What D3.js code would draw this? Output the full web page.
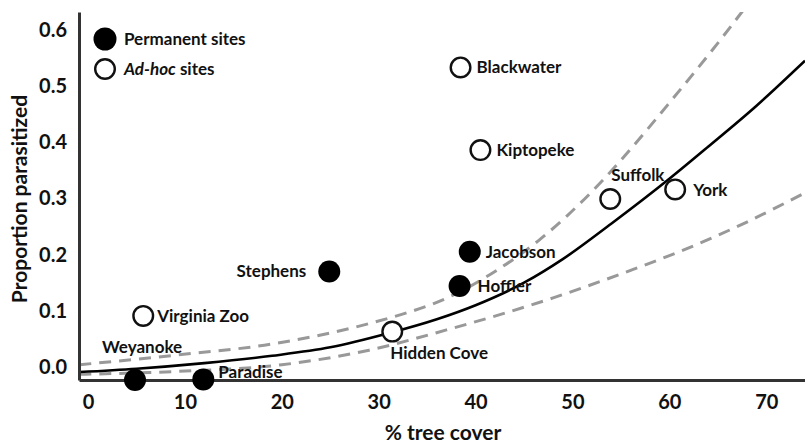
<!DOCTYPE html>
<html>
<head>
<meta charset="utf-8">
<script src="https://cdn.jsdelivr.net/npm/d3@7"></script>
<style>
  html, body { margin: 0; padding: 0; background: #fff; }
  svg { display: block; }
  text { font-family: Lato, "Open Sans", sans-serif; font-weight: 700; fill: #111; }
</style>
</head>
<body>
<svg id="chart" width="805" height="445"></svg>
<script>
// ---- Data ----
const permanentSites = ["Jacobson", "Hoffler", "Stephens", "Weyanoke", "Paradise"];
const permanentCover = [39.4, 38.35, 24.9, 4.85, 11.9];
const permanentProp  = [0.205, 0.144, 0.170, -0.023, -0.022];

const adhocSites = ["Blackwater", "Kiptopeke", "Suffolk", "York", "Virginia Zoo", "Hidden Cove"];
const adhocCover = [38.45, 40.5, 53.9, 60.6, 5.7, 31.4];
const adhocProp  = [0.533, 0.386, 0.299, 0.316, 0.091, 0.063];

// fitted curve and confidence bands
const fitX = [-0.9, 5, 12, 19, 25, 31, 36, 40, 45, 49, 54, 60, 64, 69, 74];
const fitY = [-0.009, -0.003, 0.007, 0.020, 0.035, 0.060, 0.085, 0.110, 0.150, 0.192, 0.255, 0.335, 0.392, 0.465, 0.545];
const upperX = [-0.9, 9, 19, 28.5, 33, 36, 42, 46.5, 49.5, 53, 55, 60, 67.5, 70];
const upperY = [0.004, 0.021, 0.041, 0.075, 0.097, 0.115, 0.170, 0.225, 0.270, 0.330, 0.368, 0.470, 0.632, 0.690];
const lowerX = [-0.9, 9, 20, 29, 37, 48, 56, 62, 68, 74];
const lowerY = [-0.013, -0.008, 0.004, 0.030, 0.066, 0.123, 0.172, 0.212, 0.258, 0.310];

const xTicks = [0, 10, 20, 30, 40, 50, 60, 70];
const yTicks = [0.0, 0.1, 0.2, 0.3, 0.4, 0.5, 0.6];

// label placement (dx, dy, anchor) per site
const labelPos = {
  "Jacobson": [16, 0, "start"], "Hoffler": [18, 0, "start"], "Stephens": [-23, 0, "end"],
  "Weyanoke": [-33, -33, "start"], "Paradise": [15, -7, "start"],
  "Blackwater": [16, 0, "start"], "Kiptopeke": [16, 0, "start"], "Suffolk": [1, -24, "start"],
  "York": [18, 1, "start"], "Virginia Zoo": [14, 0, "start"], "Hidden Cove": [-2, 21, "start"]
};

// ---- Chart ----
const svg = d3.select("#chart");
const x = d3.scaleLinear().domain([-0.93, 74]).range([79, 805]);
const y = d3.scaleLinear().domain([-0.0231, 0.6317]).range([380, 12]);

svg.append("defs").append("clipPath").attr("id", "plot")
  .append("rect").attr("x", 79).attr("y", 12).attr("width", 726).attr("height", 368);

const line = d3.line().x(d => x(d[0])).y(d => y(d[1])).curve(d3.curveMonotoneX);
const g = svg.append("g").attr("clip-path", "url(#plot)");

g.append("path").datum(d3.zip(upperX, upperY)).attr("d", line)
  .attr("fill", "none").attr("stroke", "#999").attr("stroke-width", 3).attr("stroke-dasharray", "12,8");
g.append("path").datum(d3.zip(lowerX, lowerY)).attr("d", line)
  .attr("fill", "none").attr("stroke", "#999").attr("stroke-width", 3).attr("stroke-dasharray", "12,8");
g.append("path").datum(d3.zip(fitX, fitY)).attr("d", line)
  .attr("fill", "none").attr("stroke", "#000").attr("stroke-width", 2.6);

// axes
const xAxis = svg.append("g").attr("transform", "translate(0,380)")
  .call(d3.axisBottom(x).tickValues(xTicks).tickSize(0).tickSizeOuter(0).tickPadding(15).tickFormat(d3.format("d")));
const yAxis = svg.append("g").attr("transform", "translate(79,0)")
  .call(d3.axisLeft(y).tickValues(yTicks).tickSize(0).tickSizeOuter(0).tickPadding(12).tickFormat(d3.format(".1f")));
[xAxis, yAxis].forEach(a => {
  a.select(".domain").attr("stroke", "#333").attr("stroke-width", 3);
  a.selectAll(".tick text").attr("font-family", "Lato, sans-serif").attr("font-weight", 700)
    .attr("font-size", 20).attr("fill", "#111");
});

svg.append("text").attr("x", 443).attr("y", 440).attr("text-anchor", "middle")
  .attr("font-size", 21).text("% tree cover");
svg.append("text").attr("transform", "translate(27,199) rotate(-90)").attr("text-anchor", "middle")
  .attr("font-size", 21).text("Proportion parasitized");

// points
const perm = permanentSites.map((s, i) => ({ s, x: permanentCover[i], y: permanentProp[i] }));
const adhoc = adhocSites.map((s, i) => ({ s, x: adhocCover[i], y: adhocProp[i] }));

svg.append("g").selectAll("circle").data(perm).join("circle")
  .attr("cx", d => x(d.x)).attr("cy", d => y(d.y)).attr("r", 11).attr("fill", "#000");
svg.append("g").selectAll("circle").data(adhoc).join("circle")
  .attr("cx", d => x(d.x)).attr("cy", d => y(d.y)).attr("r", 9.8)
  .attr("fill", "#fff").attr("stroke", "#111").attr("stroke-width", 2.4);

svg.append("g").selectAll("text").data(perm.concat(adhoc)).join("text")
  .attr("x", d => x(d.x) + labelPos[d.s][0]).attr("y", d => y(d.y) + labelPos[d.s][1])
  .attr("dy", "0.35em").attr("text-anchor", d => labelPos[d.s][2])
  .attr("font-size", 17).text(d => d.s);

// legend
svg.append("circle").attr("cx", 105).attr("cy", 39).attr("r", 11.5).attr("fill", "#000");
svg.append("text").attr("x", 124).attr("y", 39).attr("dy", "0.35em").attr("font-size", 17).text("Permanent sites");
svg.append("circle").attr("cx", 105).attr("cy", 69).attr("r", 9.8)
  .attr("fill", "#fff").attr("stroke", "#111").attr("stroke-width", 2.4);
const lt = svg.append("text").attr("x", 124).attr("y", 69).attr("dy", "0.35em").attr("font-size", 17);
lt.append("tspan").attr("font-style", "italic").text("Ad-hoc");
lt.append("tspan").text(" sites");
</script>
</body>
</html>
